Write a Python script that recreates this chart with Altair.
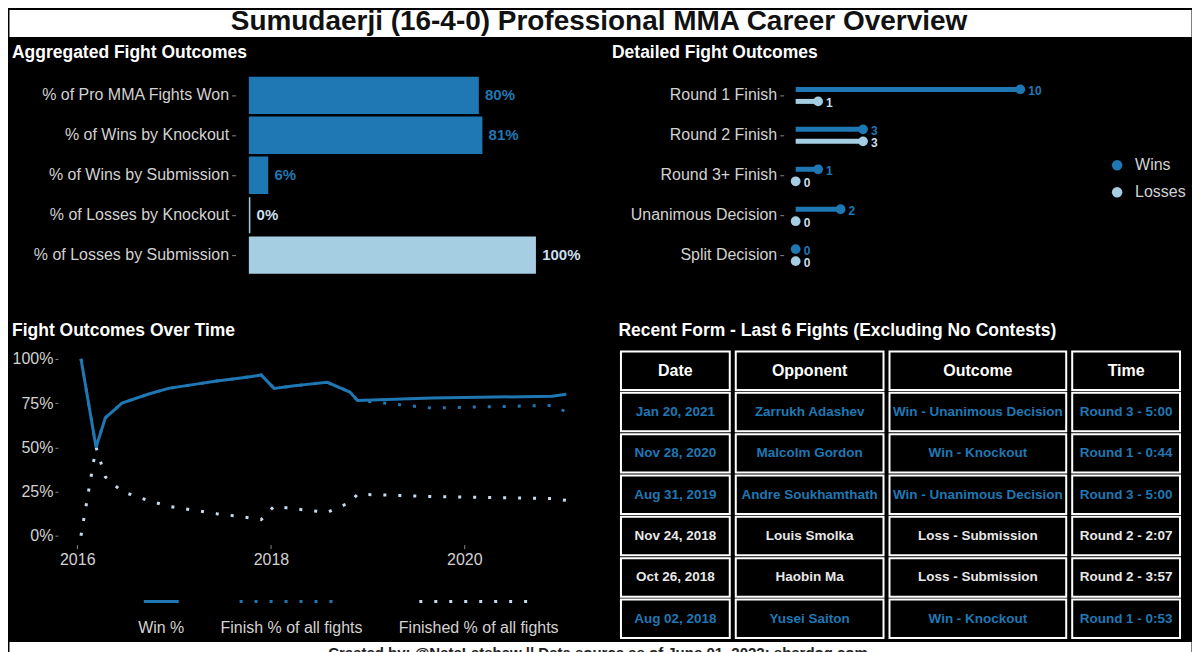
import altair as alt
import pandas as pd

FONT = "Liberation Sans"
BLUE = "#1f78b4"
LIGHT = "#a6cee3"
LIGHT_TXT = "#c9dfee"
GREY = "#d2d2d2"
DOT_LIGHT = "#c6dbef"

# ---------------- data ----------------
main_title = "Sumudaerji (16-4-0) Professional MMA Career Overview"
caption = "Created by: @NateLatshaw || Data source as of June 01, 2022: sherdog.com"

agg_labels = ["% of Pro MMA Fights Won", "% of Wins by Knockout", "% of Wins by Submission",
              "% of Losses by Knockout", "% of Losses by Submission"]
agg_values = [0.80, 0.8125, 0.0625, 0.0, 1.0]
agg_group = ["Win", "Win", "Win", "Loss", "Loss"]

det_categories = ["Round 1 Finish", "Round 2 Finish", "Round 3+ Finish", "Unanimous Decision", "Split Decision"]
det_wins = [10, 3, 1, 2, 0]
det_losses = [1, 3, 0, 0, 0]
det_series = ["Wins", "Losses"]

fight_dates = ["2016-01-15", "2016-03-12", "2016-04-16", "2016-06-18", "2016-09-24", "2016-12-10",
               "2017-03-25", "2017-06-10", "2017-08-26", "2017-10-21", "2017-11-25", "2018-01-13",
               "2018-03-24", "2018-05-26", "2018-08-02", "2018-10-26", "2018-11-24", "2019-08-31",
               "2020-11-28", "2021-01-20"]
win_pct = [1.0, 0.5, 0.667, 0.75, 0.8, 0.833, 0.857, 0.875, 0.889, 0.9, 0.909, 0.833,
           0.846, 0.857, 0.867, 0.8125, 0.765, 0.778, 0.789, 0.8]
finish_pct = [1.0, 0.5, 0.667, 0.75, 0.8, 0.833, 0.857, 0.875, 0.889, 0.9, 0.909, 0.833,
              0.846, 0.857, 0.867, 0.8125, 0.765, 0.722, 0.737, 0.70]
finished_pct = [0.0, 0.5, 0.333, 0.25, 0.2, 0.167, 0.143, 0.125, 0.111, 0.1, 0.091, 0.167,
                0.154, 0.143, 0.133, 0.188, 0.235, 0.222, 0.211, 0.2]
series_names = ["Win %", "Finish % of all fights", "Finished % of all fights"]

tbl_headers = ["Date", "Opponent", "Outcome", "Time"]
tbl_dates = ["Jan 20, 2021", "Nov 28, 2020", "Aug 31, 2019", "Nov 24, 2018", "Oct 26, 2018", "Aug 02, 2018"]
tbl_opponents = ["Zarrukh Adashev", "Malcolm Gordon", "Andre Soukhamthath", "Louis Smolka", "Haobin Ma", "Yusei Saiton"]
tbl_outcomes = ["Win - Unanimous Decision", "Win - Knockout", "Win - Unanimous Decision",
                "Loss - Submission", "Loss - Submission", "Win - Knockout"]
tbl_times = ["Round 3 - 5:00", "Round 1 - 0:44", "Round 3 - 5:00", "Round 2 - 2:07", "Round 2 - 3:57", "Round 1 - 0:53"]


def panel_title(text, offset):
    return alt.TitleParams(text, anchor="start", fontSize=17.5, fontWeight="bold", color="white",
                           font=FONT, offset=offset)


def y_axis(extent):
    return alt.Axis(labelColor=GREY, labelFontSize=16, labelFont=FONT, tickColor="#888888", tickSize=4,
                    labelPadding=3, domain=False, grid=False, minExtent=extent, maxExtent=extent,
                    labelLimit=400, title=None)


def stack(*charts, columns=1, spacing=0):
    return alt.concat(*charts, columns=columns, align="none", spacing=spacing)


def spacer():
    # a 1px empty cell so that the next cell is placed by its full bounds (axis labels included)
    return alt.Chart(pd.DataFrame({"t": [""]})).mark_text(fontSize=1, align="left", baseline="top").encode(
        text="t:N", x=alt.value(0), y=alt.value(0)).properties(width=1, height=1)


# ---------------- header / footer ----------------
header = alt.Chart(pd.DataFrame({"t": [main_title]})).mark_text(
    fontSize=28, fontWeight="bold", color="#111111", font=FONT, baseline="alphabetic", clip=True
).encode(text="t:N", x=alt.value(591), y=alt.value(20)).properties(
    width=1184, height=27, view=alt.ViewBackground(fill="white", stroke="transparent"))

footer = alt.Chart(pd.DataFrame({"t": [caption]})).mark_text(
    fontSize=15, fontWeight="bold", color="#222222", font=FONT, baseline="top"
).encode(text="t:N", x=alt.value(590), y=alt.value(5)).properties(
    width=1184, height=12, view=alt.ViewBackground(fill="white", stroke="transparent"))

# ---------------- aggregated bars ----------------
agg_df = pd.DataFrame({"label": agg_labels, "value": agg_values, "group": agg_group})
agg_base = alt.Chart(agg_df).encode(
    y=alt.Y("label:N", sort=agg_labels, axis=y_axis(224),
            scale=alt.Scale(paddingInner=0.1, paddingOuter=0.05)),
    x=alt.X("value:Q", scale=alt.Scale(domain=[-0.049, 1.234], nice=False), axis=None),
)
agg_bars = agg_base.mark_bar(strokeWidth=1.5).encode(
    color=alt.Color("group:N", scale=alt.Scale(domain=["Win", "Loss"], range=[BLUE, LIGHT]), legend=None),
    stroke=alt.Stroke("group:N", scale=alt.Scale(domain=["Win", "Loss"], range=[BLUE, LIGHT]), legend=None),
)
agg_text_w = agg_base.transform_filter(alt.datum.group == "Win").mark_text(
    align="left", dx=7, fontSize=15, fontWeight="bold", font=FONT, color=BLUE).encode(
    text=alt.Text("value:Q", format=".0%"))
agg_text_l = agg_base.transform_filter(alt.datum.group == "Loss").mark_text(
    align="left", dx=7, fontSize=15, fontWeight="bold", font=FONT, color=LIGHT_TXT).encode(
    text=alt.Text("value:Q", format=".0%"))
agg_chart = alt.layer(agg_bars, agg_text_w, agg_text_l).properties(
    width=367, height=200, title=panel_title("Aggregated Fight Outcomes", 14))

# ---------------- detailed lollipop ----------------
det_df = pd.DataFrame({
    "category": det_categories * 2,
    "series": [det_series[0]] * len(det_categories) + [det_series[1]] * len(det_categories),
    "count": det_wins + det_losses,
})
det_y = alt.Y("category:N", sort=det_categories, axis=y_axis(172),
              scale=alt.Scale(paddingInner=0, paddingOuter=0))
det_x = alt.X("count:Q", scale=alt.Scale(domain=[-0.533, 12], nice=False), axis=None)
det_layers = []
det_leg_df = pd.DataFrame({"series": det_series})
for s, off, col, tcol, ly in [(det_series[0], -6, BLUE, BLUE, 90), (det_series[1], 6, LIGHT, LIGHT_TXT, 117)]:
    b = alt.Chart(det_df).transform_filter(alt.datum.series == s).encode(y=det_y, x=det_x)
    det_layers.append(b.mark_bar(size=5, yOffset=off, color=col))
    det_layers.append(b.mark_point(filled=True, size=95, opacity=1, yOffset=off, color=col))
    det_layers.append(b.mark_text(align="left", dx=8, yOffset=off + 1.5, fontSize=12, fontWeight="bold",
                                  font=FONT, color=tcol).encode(text=alt.Text("count:Q")))
    # legend key (drawn to the right of the panel)
    lg = alt.Chart(det_leg_df).transform_filter(alt.datum.series == s)
    det_layers.append(lg.mark_point(filled=True, size=110, opacity=1, color=col).encode(
        x=alt.value(334), y=alt.value(ly)))
    det_layers.append(lg.mark_text(align="left", baseline="middle", fontSize=16, font=FONT, color=GREY).encode(
        text="series:N", x=alt.value(352), y=alt.value(ly)))
det_chart = alt.layer(*det_layers).properties(
    width=282, height=200, title=panel_title("Detailed Fight Outcomes", 14))

row1 = stack(spacer(), stack(agg_chart, det_chart, columns=2, spacing=8), columns=2, spacing=0)

# ---------------- time series ----------------
n = len(fight_dates)
time_df = pd.DataFrame({
    "date": fight_dates * 3,
    "series": [series_names[0]] * n + [series_names[1]] * n + [series_names[2]] * n,
    "pct": win_pct + finish_pct + finished_pct,
})
x_time = alt.X("date:T", title=None,
               scale=alt.Scale(domain=[alt.DateTime(year=2015, month=10, date=20),
                                       alt.DateTime(year=2021, month=4, date=27)], nice=False),
               axis=alt.Axis(values=[alt.DateTime(year=2016, month=1, date=1),
                                     alt.DateTime(year=2018, month=1, date=1),
                                     alt.DateTime(year=2020, month=1, date=1)],
                             format="%Y", labelColor=GREY, labelFontSize=16, labelFont=FONT,
                             tickColor="#888888", tickSize=4, labelPadding=3, domain=False, grid=False))
y_time = alt.Y("pct:Q", title=None, scale=alt.Scale(domain=[-0.05, 1.05], nice=False),
               axis=alt.Axis(values=[0, 0.25, 0.5, 0.75, 1.0], format=".0%", labelColor=GREY,
                             labelFontSize=16, labelFont=FONT, tickColor="#888888", tickSize=3,
                             labelPadding=2, domain=False, grid=False, minExtent=44, maxExtent=44))
tbase = alt.Chart(time_df).encode(x=x_time, y=y_time)
l_finished = tbase.transform_filter(alt.datum.series == series_names[2]).mark_line(
    color=DOT_LIGHT, strokeWidth=3, strokeDash=[3, 12], strokeCap="butt")
l_finish = tbase.transform_filter(alt.datum.series == series_names[1]).mark_line(
    color=BLUE, strokeWidth=3, strokeDash=[3, 12], strokeCap="butt")
l_win = tbase.transform_filter(alt.datum.series == series_names[0]).mark_line(
    color=BLUE, strokeWidth=3)
time_chart = alt.layer(l_finished, l_finish, l_win).properties(
    width=535, height=195, title=panel_title("Fight Outcomes Over Time", 10))


# legend made of three small panels, one per series (label under its key)
def legend_item(label, w, x1, x2, color, dash):
    d = pd.DataFrame({"label": [label]})
    kw = dict(color=color, strokeWidth=3)
    if dash:
        kw.update(strokeDash=[3, 12], strokeCap="butt")
    key = alt.Chart(d).mark_rule(**kw).encode(x=alt.value(x1), x2=alt.value(x2), y=alt.value(10))
    txt = alt.Chart(d).mark_text(color=GREY, fontSize=16, font=FONT).encode(
        text="label:N", x=alt.value((x1 + x2) / 2), y=alt.value(37))
    return alt.layer(key, txt).properties(width=w, height=48)


legend_chart = stack(
    legend_item(series_names[0], 147, 86, 121, BLUE, False),
    legend_item(series_names[1], 174, 33, 137, BLUE, True),
    legend_item(series_names[2], 214, 37, 156, DOT_LIGHT, True),
    columns=3, spacing=0,
)

left2 = stack(time_chart, legend_chart, columns=1, spacing=22)

# ---------------- table ----------------
row_ids = ["h", "1", "2", "3", "4", "5", "6"]
kinds = ["Win" if o.startswith("Win") else "Loss" for o in tbl_outcomes]


def table_column(header_text, values, w):
    df = pd.DataFrame({"row": row_ids, "text": [header_text] + values, "kind": ["Header"] + kinds})
    ys = alt.Y("row:N", sort=row_ids, axis=None, scale=alt.Scale(paddingInner=0.07, paddingOuter=0.035))
    cells = alt.Chart(df).mark_rect(fill="black", stroke="white", strokeWidth=2).encode(
        y=ys, x=alt.value(2), x2=alt.value(w - 2))
    head = alt.Chart(df).transform_filter(alt.datum.kind == "Header").mark_text(
        fontSize=16, fontWeight="bold", color="white", font=FONT).encode(
        y=ys, x=alt.value(w / 2), text="text:N")
    body_w = alt.Chart(df).transform_filter(alt.datum.kind == "Win").mark_text(
        fontSize=13.5, fontWeight="bold", font=FONT, color=BLUE).encode(
        y=ys, x=alt.value(w / 2), text="text:N")
    body_l = alt.Chart(df).transform_filter(alt.datum.kind == "Loss").mark_text(
        fontSize=13.5, fontWeight="bold", font=FONT, color="#e8e8e8").encode(
        y=ys, x=alt.value(w / 2), text="text:N")
    return alt.layer(cells, head, body_w, body_l).properties(width=w, height=290)


table = stack(
    table_column(tbl_headers[0], tbl_dates, 113),
    table_column(tbl_headers[1], tbl_opponents, 152),
    table_column(tbl_headers[2], tbl_outcomes, 181),
    table_column(tbl_headers[3], tbl_times, 112),
    columns=4, spacing=0,
).properties(title=panel_title("Recent Form - Last 6 Fights (Excluding No Contests)", 10))

row2 = stack(spacer(), stack(left2, table, columns=2, spacing=21), columns=2, spacing=0)

body = stack(row1, row2, columns=1, spacing=46)
chart = stack(stack(header, body, columns=1, spacing=6), footer, columns=1, spacing=0).properties(
    background="black", padding=0
).configure(font=FONT).configure_view(stroke="transparent")

chart.save("out.html", embed_options={"renderer": "svg", "actions": False})
